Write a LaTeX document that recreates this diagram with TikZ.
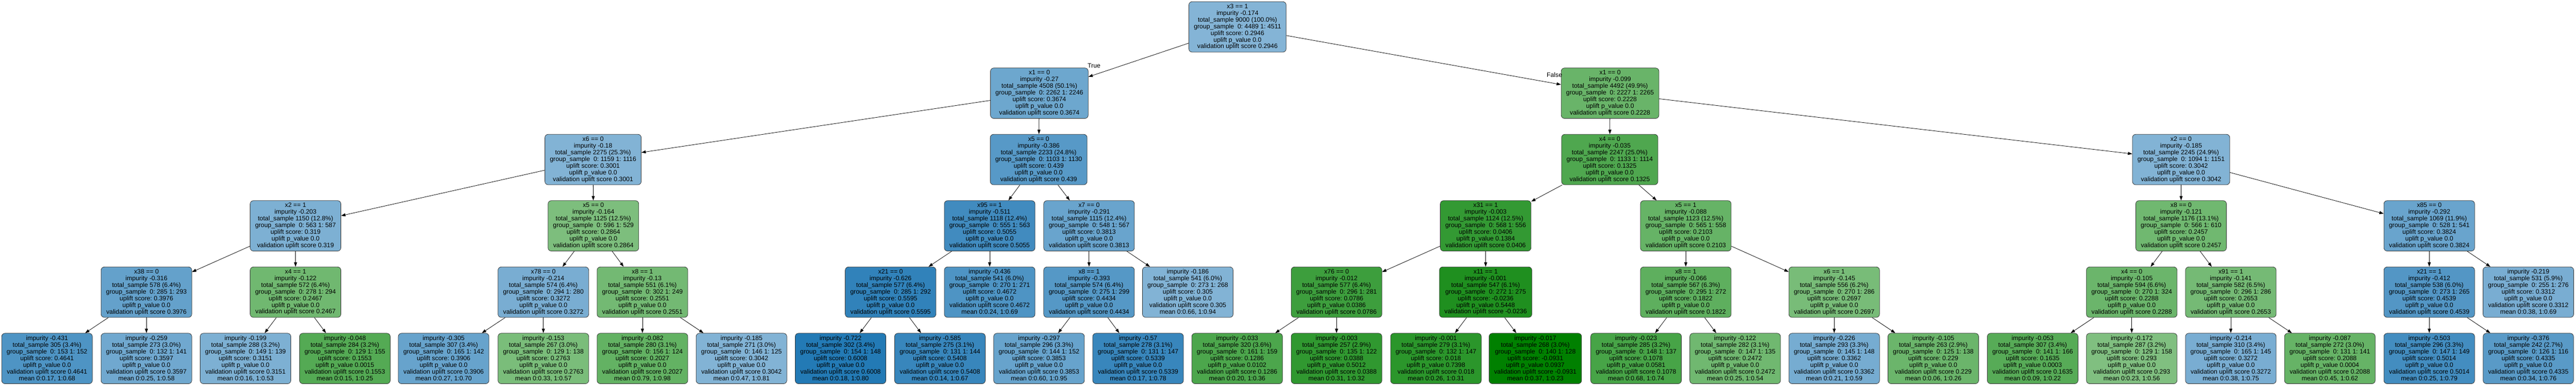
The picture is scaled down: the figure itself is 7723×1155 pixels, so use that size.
\documentclass[tikz,border=0pt]{standalone}
\usepackage{fontspec}
\setmainfont{Liberation Sans}
\usepackage{tikz}
\usetikzlibrary{arrows.meta}
\definecolor{upliftblue}{RGB}{31,119,180}
\definecolor{upliftgreen}{RGB}{0,128,0}
% text of a split node and of a leaf
\newcommand{\splitlines}[7]{#1\\impurity #2\\total\_sample #3\\group\_sample\ \ 0: #4 1: #5\\uplift score: #6\\uplift p\_value #7\\validation uplift score #6}
\newcommand{\leaflines}[7]{impurity #1\\total\_sample #2\\group\_sample\ \ 0: #3 1: #4\\uplift score: #5\\uplift p\_value #6\\validation uplift score #5\\mean #7}

\begin{document}
\begin{tikzpicture}[x=1pt,y=-1pt,
  treenode/.style={draw=black!80,line width=1.2pt,rounded corners=10pt,align=center,
    font=\fontsize{19}{20}\selectfont\frenchspacing,inner xsep=15pt,
    minimum width=271pt,minimum height=151pt},
  bnode/.style={treenode,fill=upliftblue!#1!white},
  gnode/.style={treenode,fill=upliftgreen!#1!white},
  edge/.style={draw=black,line width=1.2pt,-{Triangle[length=13pt,width=9pt]}},
  edgelabel/.style={font=\fontsize{19}{20}\selectfont}]
\path[use as bounding box,fill=white] (0,0) rectangle (7723,1155);

% level 0 and 1
\node[bnode=55] (root) at (3710,80.5) {\splitlines{x3 == 1}{-0.174}{9000 (100.0\%)}{4489}{4511}{0.2946}{0.0}};
\node[bnode=65] (l) at (3116,279) {\splitlines{x1 == 0}{-0.27}{4508 (50.1\%)}{2262}{2246}{0.3674}{0.0}};
\node[gnode=59] (r) at (4827,279) {\splitlines{x1 == 0}{-0.099}{4492 (49.9\%)}{2227}{2265}{0.2228}{0.0}};

% level 2
\node[bnode=56] (ll) at (1778,477.5) {\splitlines{x6 == 0}{-0.18}{2275 (25.3\%)}{1159}{1116}{0.3001}{0.0}};
\node[bnode=75] (lr) at (3114,477.5) {\splitlines{x5 == 0}{-0.386}{2233 (24.8\%)}{1103}{1130}{0.439}{0.0}};
\node[gnode=69] (rl) at (4826,477.5) {\splitlines{x4 == 0}{-0.035}{2247 (25.0\%)}{1133}{1114}{0.1325}{0.0}};
\node[bnode=56] (rr) at (6539,477.5) {\splitlines{x2 == 0}{-0.185}{2245 (24.9\%)}{1094}{1151}{0.3042}{0.0}};

% level 3
\node[bnode=58] (lll) at (886,676) {\splitlines{x2 == 1}{-0.203}{1150 (12.8\%)}{563}{587}{0.319}{0.0}};
\node[gnode=51] (llr) at (1779,676) {\splitlines{x5 == 0}{-0.164}{1125 (12.5\%)}{596}{529}{0.2864}{0.0}};
\node[bnode=85] (lrl) at (2967,676) {\splitlines{x95 == 1}{-0.511}{1118 (12.4\%)}{555}{563}{0.5055}{0.0}};
\node[bnode=67] (lrr) at (3265,676) {\splitlines{x7 == 0}{-0.291}{1115 (12.4\%)}{548}{567}{0.3813}{0.0}};
\node[gnode=80] (rll) at (4454,676) {\splitlines{x31 == 1}{-0.003}{1124 (12.5\%)}{568}{556}{0.0406}{0.1384}};
\node[gnode=60] (rlr) at (5054,676) {\splitlines{x5 == 1}{-0.088}{1123 (12.5\%)}{565}{558}{0.2103}{0.0}};
\node[gnode=56] (rrl) at (6539,676) {\splitlines{x8 == 0}{-0.121}{1176 (13.1\%)}{566}{610}{0.2457}{0.0}};
\node[bnode=67] (rrr) at (7283,676) {\splitlines{x85 == 0}{-0.292}{1069 (11.9\%)}{528}{541}{0.3824}{0.0}};

% level 4
\node[bnode=69] (llll) at (439,874.5) {\splitlines{x38 == 0}{-0.316}{578 (6.4\%)}{285}{293}{0.3976}{0.0}};
\node[gnode=56] (lllr) at (886,874.5) {\splitlines{x4 == 1}{-0.122}{572 (6.4\%)}{278}{294}{0.2467}{0.0}};
\node[bnode=60] (llrl) at (1629,874.5) {\splitlines{x78 == 0}{-0.214}{574 (6.4\%)}{294}{280}{0.3272}{0.0}};
\node[gnode=55] (llrr) at (1926,874.5) {\splitlines{x8 == 1}{-0.13}{551 (6.1\%)}{302}{249}{0.2551}{0.0}};
\node[bnode=92] (lrll) at (2670,874.5) {\splitlines{x21 == 0}{-0.626}{577 (6.4\%)}{285}{292}{0.5595}{0.0}};
\node[bnode=79] (lrlr) at (2967,874.5) {\leaflines{-0.436}{541 (6.0\%)}{270}{271}{0.4672}{0.0}{0:0.24, 1:0.69}};
\node[bnode=76] (lrrl) at (3265,874.5) {\splitlines{x8 == 1}{-0.393}{574 (6.4\%)}{275}{299}{0.4434}{0.0}};
\node[bnode=56] (lrrr) at (3561,874.5) {\leaflines{-0.186}{541 (6.0\%)}{273}{268}{0.305}{0.0}{0:0.66, 1:0.94}};
\node[gnode=76] (rlll) at (4007,874.5) {\splitlines{x76 == 0}{-0.012}{577 (6.4\%)}{296}{281}{0.0786}{0.0386}};
\node[gnode=88] (rllr) at (4454,874.5) {\splitlines{x11 == 1}{-0.001}{547 (6.1\%)}{272}{275}{-0.0236}{0.5448}};
\node[gnode=63] (rlrl) at (5054,874.5) {\splitlines{x8 == 1}{-0.066}{567 (6.3\%)}{295}{272}{0.1822}{0.0}};
\node[gnode=53] (rlrr) at (5499,874.5) {\splitlines{x6 == 1}{-0.145}{556 (6.2\%)}{270}{286}{0.2697}{0.0}};
\node[gnode=58] (rrll) at (6391,874.5) {\splitlines{x4 == 0}{-0.105}{594 (6.6\%)}{270}{324}{0.2288}{0.0}};
\node[gnode=54] (rrlr) at (6688,874.5) {\splitlines{x91 == 1}{-0.141}{582 (6.5\%)}{296}{286}{0.2653}{0.0}};
\node[bnode=77] (rrrl) at (7283,874.5) {\splitlines{x21 == 1}{-0.412}{538 (6.0\%)}{273}{265}{0.4539}{0.0}};
\node[bnode=60] (rrrr) at (7580,874.5) {\leaflines{-0.219}{531 (5.9\%)}{255}{276}{0.3312}{0.0}{0:0.38, 1:0.69}};

% level 5, leaves
\node[bnode=79] (lllll) at (141,1073) {\leaflines{-0.431}{305 (3.4\%)}{153}{152}{0.4641}{0.0}{0:0.17, 1:0.68}};
\node[bnode=64] (llllr) at (439,1073) {\leaflines{-0.259}{273 (3.0\%)}{132}{141}{0.3597}{0.0}{0:0.25, 1:0.58}};
\node[bnode=58] (lllrl) at (736,1073) {\leaflines{-0.199}{288 (3.2\%)}{149}{139}{0.3151}{0.0}{0:0.16, 1:0.53}};
\node[gnode=67] (lllrr) at (1034,1073) {\leaflines{-0.048}{284 (3.2\%)}{129}{155}{0.1553}{0.0015}{0:0.15, 1:0.25}};
\node[bnode=68] (llrll) at (1330,1073) {\leaflines{-0.305}{307 (3.4\%)}{165}{142}{0.3906}{0.0}{0:0.27, 1:0.70}};
\node[gnode=52] (llrlr) at (1629,1073) {\leaflines{-0.153}{267 (3.0\%)}{129}{138}{0.2763}{0.0}{0:0.33, 1:0.57}};
\node[gnode=61] (llrrl) at (1926,1073) {\leaflines{-0.082}{280 (3.1\%)}{156}{124}{0.2027}{0.0}{0:0.79, 1:0.98}};
\node[bnode=56] (llrrr) at (2223,1073) {\leaflines{-0.185}{271 (3.0\%)}{146}{125}{0.3042}{0.0}{0:0.47, 1:0.81}};
\node[bnode=98] (lrlll) at (2520,1073) {\leaflines{-0.722}{302 (3.4\%)}{154}{148}{0.6008}{0.0}{0:0.18, 1:0.80}};
\node[bnode=89] (lrllr) at (2818,1073) {\leaflines{-0.585}{275 (3.1\%)}{131}{144}{0.5408}{0.0}{0:0.14, 1:0.67}};
\node[bnode=68] (lrrll) at (3115,1073) {\leaflines{-0.297}{296 (3.3\%)}{144}{152}{0.3853}{0.0}{0:0.60, 1:0.95}};
\node[bnode=89] (lrrlr) at (3412,1073) {\leaflines{-0.57}{278 (3.1\%)}{131}{147}{0.5339}{0.0}{0:0.17, 1:0.78}};
\node[gnode=70] (rllll) at (3709,1073) {\leaflines{-0.033}{320 (3.6\%)}{161}{159}{0.1286}{0.0102}{0:0.20, 1:0.36}};
\node[gnode=81] (rlllr) at (4007,1073) {\leaflines{-0.003}{257 (2.9\%)}{135}{122}{0.0388}{0.5012}{0:0.31, 1:0.32}};
\node[gnode=83] (rllrl) at (4305,1073) {\leaflines{-0.001}{279 (3.1\%)}{132}{147}{0.018}{0.7398}{0:0.26, 1:0.31}};
\node[gnode=100] (rllrr) at (4603,1073) {\leaflines{-0.017}{268 (3.0\%)}{140}{128}{-0.0931}{0.0937}{0:0.37, 1:0.23}};
\node[gnode=72] (rlrll) at (4905,1073) {\leaflines{-0.023}{285 (3.2\%)}{148}{137}{0.1078}{0.0581}{0:0.68, 1:0.74}};
\node[gnode=56] (rlrlr) at (5202,1073) {\leaflines{-0.122}{282 (3.1\%)}{147}{135}{0.2472}{0.0}{0:0.25, 1:0.54}};
\node[bnode=61] (rlrrl) at (5499,1073) {\leaflines{-0.226}{293 (3.3\%)}{145}{148}{0.3362}{0.0}{0:0.21, 1:0.59}};
\node[gnode=58] (rlrrr) at (5796,1073) {\leaflines{-0.105}{263 (2.9\%)}{125}{138}{0.229}{0.0}{0:0.06, 1:0.26}};
\node[gnode=66] (rrlll) at (6094,1073) {\leaflines{-0.053}{307 (3.4\%)}{141}{166}{0.1635}{0.0003}{0:0.09, 1:0.22}};
\node[gnode=50] (rrllr) at (6391,1073) {\leaflines{-0.172}{287 (3.2\%)}{129}{158}{0.293}{0.0}{0:0.23, 1:0.56}};
\node[bnode=60] (rrlrl) at (6688,1073) {\leaflines{-0.214}{310 (3.4\%)}{165}{145}{0.3272}{0.0}{0:0.38, 1:0.75}};
\node[gnode=60] (rrlrr) at (6985,1073) {\leaflines{-0.087}{272 (3.0\%)}{131}{141}{0.2088}{0.0004}{0:0.45, 1:0.62}};
\node[bnode=84] (rrrll) at (7283,1073) {\leaflines{-0.503}{296 (3.3\%)}{147}{149}{0.5014}{0.0}{0:0.25, 1:0.79}};
\node[bnode=74] (rrrlr) at (7580,1073) {\leaflines{-0.376}{242 (2.7\%)}{126}{116}{0.4335}{0.0}{0:0.34, 1:0.76}};

% edges
\draw[edge] (root) -- node[edgelabel,pos=0.944,yshift=27pt] {True} (l);
\draw[edge] (root) -- node[edgelabel,pos=0.976,yshift=26pt] {False} (r);
\foreach \p/\c in {l/ll,l/lr,r/rl,r/rr,
  ll/lll,ll/llr,lr/lrl,lr/lrr,rl/rll,rl/rlr,rr/rrl,rr/rrr,
  lll/llll,lll/lllr,llr/llrl,llr/llrr,lrl/lrll,lrl/lrlr,lrr/lrrl,lrr/lrrr,
  rll/rlll,rll/rllr,rlr/rlrl,rlr/rlrr,rrl/rrll,rrl/rrlr,rrr/rrrl,rrr/rrrr,
  llll/lllll,llll/llllr,lllr/lllrl,lllr/lllrr,llrl/llrll,llrl/llrlr,llrr/llrrl,llrr/llrrr,
  lrll/lrlll,lrll/lrllr,lrrl/lrrll,lrrl/lrrlr,rlll/rllll,rlll/rlllr,rllr/rllrl,rllr/rllrr,
  rlrl/rlrll,rlrl/rlrlr,rlrr/rlrrl,rlrr/rlrrr,rrll/rrlll,rrll/rrllr,rrlr/rrlrl,rrlr/rrlrr,
  rrrl/rrrll,rrrl/rrrlr}
  \draw[edge] (\p) -- (\c);
\end{tikzpicture}
\end{document}
